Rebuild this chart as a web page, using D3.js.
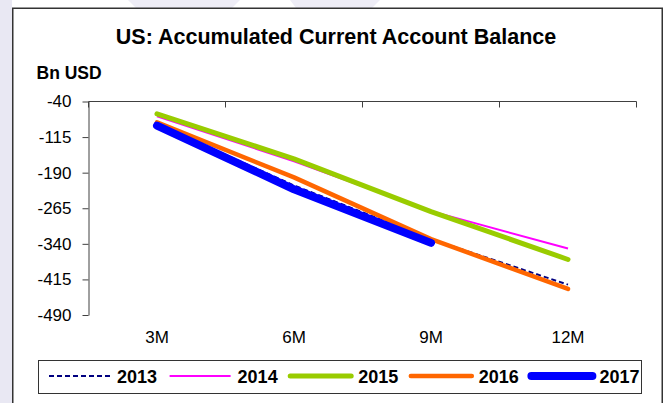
<!DOCTYPE html>
<html>
<head>
<meta charset="utf-8">
<script src="https://cdn.jsdelivr.net/npm/d3@7"></script>
<style>
  html, body { margin: 0; padding: 0; background: #ffffff; }
  svg { display: block; }
  text { font-family: "Liberation Sans", Arial, sans-serif; fill: #000; }
</style>
</head>
<body>
<svg id="chart" width="667" height="403"></svg>
<script>
// Accumulated current account balance by quarter-end, billions of USD
const categories = ["3M", "6M", "9M", "12M"];
const years = ["2013", "2014", "2015", "2016", "2017"];
const s2013 = [-88, -217, -330, -426];
const s2014 = [-71, -166, -271, -350];
const s2015 = [-66, -161, -272, -373];
const s2016 = [-84, -200, -330, -435];
const s2017 = [-91, -225, -338];
const yTicks = [-40, -115, -190, -265, -340, -415, -490];

const seriesValues = [s2013, s2014, s2015, s2016, s2017];
const seriesStyle = [
  { color: "#000080", width: 2, dash: "5,3", cap: "butt" },
  { color: "#ff00ff", width: 2, dash: null, cap: "butt" },
  { color: "#99cc00", width: 5, dash: null, cap: "round" },
  { color: "#ff6600", width: 4.5, dash: null, cap: "round" },
  { color: "#0000ff", width: 8, dash: null, cap: "round" }
];

const svg = d3.select("#chart");

// page background strip and chart frame
svg.append("rect").attr("x", 0).attr("y", 0).attr("width", 12).attr("height", 403).attr("fill", "#e9e8f3");
svg.append("polygon").attr("points", "128,0 240,0 232,8 136,8").attr("fill", "#eeedf6");
svg.append("polygon").attr("points", "290,0 380,0 372,8 296,8").attr("fill", "#eeedf6");
svg.append("rect")
  .attr("x", 12.75).attr("y", 8.25).attr("width", 649.5).attr("height", 410)
  .attr("fill", "#ffffff").attr("stroke", "#333333").attr("stroke-width", 1.5);

// title and unit label
svg.append("text").attr("x", 336).attr("y", 44).attr("text-anchor", "middle")
  .style("font-size", "21.5px").style("font-weight", "bold")
  .text("US: Accumulated Current Account Balance");
svg.append("text").attr("x", 36.5).attr("y", 79)
  .style("font-size", "17.5px").style("font-weight", "bold")
  .text("Bn USD");

// scales
const x = d3.scaleBand().domain(categories).range([88.5, 636.5]);
const y = d3.scaleLinear().domain([-490, -40]).range([315, 101.5]);
const cx = c => x(c) + x.bandwidth() / 2;

// y axis (plain hyphen-minus labels)
const yAxis = svg.append("g").attr("transform", "translate(88.5,0)")
  .call(d3.axisLeft(y).tickValues(yTicks).tickSize(6).tickSizeOuter(0).tickPadding(11)
    .tickFormat(d => String(d)));
yAxis.select(".domain").attr("stroke", "#404040");
yAxis.selectAll(".tick line").attr("stroke", "#404040");
yAxis.selectAll(".tick text").style("font-size", "17px").style("font-family", "Liberation Sans, Arial, sans-serif").attr("fill", "#000");

// category axis line crossing at the top of the value range
const xAxisY = y(-40);
const bounds = categories.map(c => x(c)).concat([x(categories[categories.length - 1]) + x.bandwidth()]);
svg.append("line").attr("x1", x.range()[0]).attr("x2", x.range()[1])
  .attr("y1", xAxisY).attr("y2", xAxisY).attr("stroke", "#404040").attr("stroke-width", 1);
svg.selectAll(".xtick").data(bounds).join("line").attr("class", "xtick")
  .attr("x1", d => d).attr("x2", d => d)
  .attr("y1", xAxisY).attr("y2", xAxisY + 6)
  .attr("stroke", "#404040").attr("stroke-width", 1);
svg.selectAll(".xlabel").data(categories).join("text").attr("class", "xlabel")
  .attr("x", d => cx(d)).attr("y", 342.5).attr("text-anchor", "middle")
  .style("font-size", "17px").text(d => d);

// series lines
const line = d3.line().x((d, i) => cx(categories[i])).y(d => y(d));
seriesValues.forEach((vals, k) => {
  const st = seriesStyle[k];
  svg.append("path").datum(vals)
    .attr("d", line)
    .attr("fill", "none")
    .attr("stroke", st.color)
    .attr("stroke-width", st.width)
    .attr("stroke-linecap", st.cap)
    .attr("stroke-linejoin", "round")
    .attr("stroke-dasharray", st.dash);
});

// legend
svg.append("rect").attr("x", 38.5).attr("y", 360.5).attr("width", 603).attr("height", 33)
  .attr("fill", "#ffffff").attr("stroke", "#333333").attr("stroke-width", 1);
const legendY = 376;
years.forEach((yr, k) => {
  const st = seriesStyle[k];
  const x0 = 49 + k * 120.6;
  svg.append("line").attr("x1", x0).attr("x2", x0 + 61)
    .attr("y1", legendY).attr("y2", legendY)
    .attr("stroke", st.color).attr("stroke-width", st.width)
    .attr("stroke-linecap", st.cap).attr("stroke-dasharray", st.dash);
  svg.append("text").attr("x", x0 + 68).attr("y", legendY + 6.7)
    .style("font-size", "18px").style("font-weight", "bold").text(yr);
});
</script>
</body>
</html>
